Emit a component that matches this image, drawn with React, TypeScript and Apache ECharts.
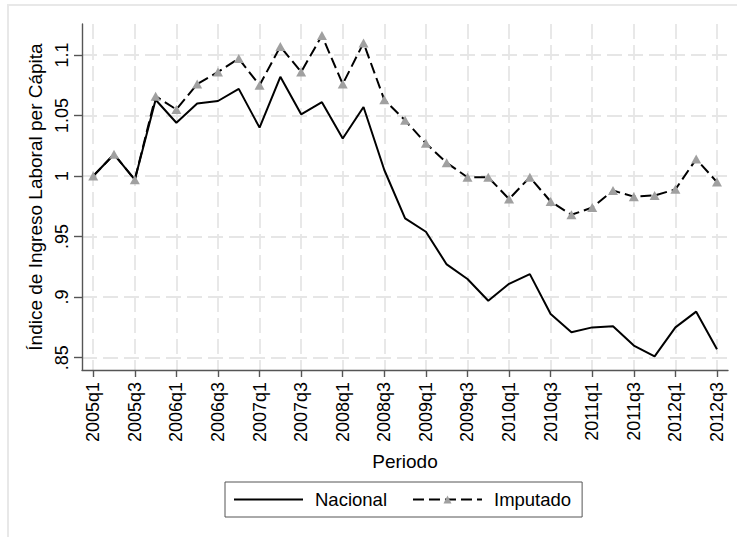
import React, { useEffect, useRef } from 'react';
import * as echarts from 'echarts';

const periods = [
  '2005q1', '2005q2', '2005q3', '2005q4',
  '2006q1', '2006q2', '2006q3', '2006q4',
  '2007q1', '2007q2', '2007q3', '2007q4',
  '2008q1', '2008q2', '2008q3', '2008q4',
  '2009q1', '2009q2', '2009q3', '2009q4',
  '2010q1', '2010q2', '2010q3', '2010q4',
  '2011q1', '2011q2', '2011q3', '2011q4',
  '2012q1', '2012q2', '2012q3',
];

const nacional = [
  1.000, 1.018, 0.997, 1.063,
  1.044, 1.060, 1.062, 1.072,
  1.040, 1.082, 1.051, 1.061,
  1.031, 1.057, 1.005, 0.965,
  0.954, 0.927, 0.915, 0.897,
  0.911, 0.919, 0.886, 0.871,
  0.875, 0.876, 0.860, 0.851,
  0.875, 0.888, 0.857,
];

const imputado = [
  1.000, 1.018, 0.997, 1.066,
  1.055, 1.076, 1.086, 1.097,
  1.075, 1.107, 1.086, 1.116,
  1.076, 1.110, 1.063, 1.046,
  1.027, 1.011, 0.999, 0.999,
  0.981, 0.999, 0.979, 0.968,
  0.974, 0.988, 0.983, 0.984,
  0.989, 1.014, 0.995,
];

const xTickIndex = [0, 2, 4, 6, 8, 10, 12, 14, 16, 18, 20, 22, 24, 26, 28, 30];
const yTickValues = [0.85, 0.9, 0.95, 1, 1.05, 1.1];
const yTickLabels = ['.85', '.9', '.95', '1', '1.05', '1.1'];

const FONT = 'Liberation Sans, Arial, Helvetica, sans-serif';

export default function App() {
  const ref = useRef<HTMLDivElement>(null);

  useEffect(() => {
    document.body.style.margin = '0';
    const chart = echarts.init(ref.current as HTMLDivElement, null, { renderer: 'svg' });
    const axisColor = '#555555';
    const gridColor = '#e6e6e6';
    chart.setOption({
      animation: false,
      backgroundColor: '#ffffff',
      textStyle: { fontFamily: FONT, color: '#000' },
      graphic: [
        {
          type: 'rect',
          silent: true,
          z: -10,
          shape: { x: 8, y: 5, width: 780, height: 580 },
          style: { fill: 'none', stroke: '#e8e8e8', lineWidth: 2 },
        },
      ],
      grid: {
        left: 82,
        right: 9,
        top: 24,
        bottom: 167,
        containLabel: false,
        outerBoundsMode: 'none',
      },
      legend: {
        left: 225,
        top: 482,
        orient: 'horizontal',
        padding: [8, 11, 8, 8],
        borderColor: '#555555',
        borderWidth: 1,
        itemWidth: 69,
        itemHeight: 10,
        itemGap: 25,
        textStyle: { fontFamily: FONT, fontSize: 18.5, color: '#000', padding: [0, 0, 0, 7] },
        data: ['Nacional', 'Imputado'],
      },
      xAxis: {
        type: 'value',
        min: -0.54,
        max: 30.53,
        name: 'Periodo',
        nameLocation: 'middle',
        nameGap: 82,
        nameTextStyle: { fontFamily: FONT, fontSize: 19, color: '#000' },
        axisLine: { show: true, onZero: false, lineStyle: { color: axisColor, width: 1.4 } },
        axisTick: {
          show: true,
          length: 7,
          customValues: xTickIndex,
          lineStyle: { color: axisColor, width: 1.4 },
        },
        axisLabel: {
          customValues: xTickIndex,
          rotate: 90,
          margin: 12,
          fontFamily: FONT,
          fontSize: 18,
          color: '#000',
          formatter: (v: number) => periods[Math.round(v)] ?? '',
        },
        splitLine: {
          show: true,
          lineStyle: { color: gridColor, width: 1.8, type: [15, 6] },
        },
      },
      yAxis: {
        type: 'value',
        min: 0.8398,
        max: 1.1256,
        name: 'Índice de Ingreso Laboral per Cápita',
        nameLocation: 'middle',
        nameRotate: 90,
        nameGap: 37,
        nameTextStyle: { fontFamily: FONT, fontSize: 19, color: '#000' },
        axisLine: { show: true, onZero: false, lineStyle: { color: axisColor, width: 1.4 } },
        axisTick: {
          show: true,
          length: 8,
          customValues: yTickValues,
          lineStyle: { color: axisColor, width: 1.4 },
        },
        axisLabel: {
          customValues: yTickValues,
          rotate: 90,
          margin: 11,
          fontFamily: FONT,
          fontSize: 18,
          color: '#000',
          formatter: (v: number) => {
            const i = yTickValues.findIndex((t) => Math.abs(t - v) < 1e-9);
            return i >= 0 ? yTickLabels[i] : '';
          },
        },
        splitLine: {
          show: true,
          lineStyle: { color: gridColor, width: 1.8, type: [15, 6] },
        },
      },
      series: [
        {
          name: 'Nacional',
          type: 'line',
          data: nacional.map((v, i) => [i, v]),
          symbol: 'none',
          itemStyle: { color: 'rgba(0,0,0,0)' },
          lineStyle: { color: '#000000', width: 2 },
          emphasis: { disabled: true },
          z: 2,
        },
        {
          name: 'Imputado',
          type: 'line',
          data: imputado.map((v, i) => [i, v]),
          symbol: 'triangle',
          symbolSize: [10, 9],
          itemStyle: { color: '#a0a0a0' },
          lineStyle: { color: '#000000', width: 2, type: [11, 5] },
          emphasis: { disabled: true },
          z: 3,
        },
      ],
    });
    return () => chart.dispose();
  }, []);

  return (
    <div
      ref={ref}
      style={{ position: 'absolute', left: 0, top: 0, width: 737, height: 537, background: '#fff' }}
    />
  );
}
